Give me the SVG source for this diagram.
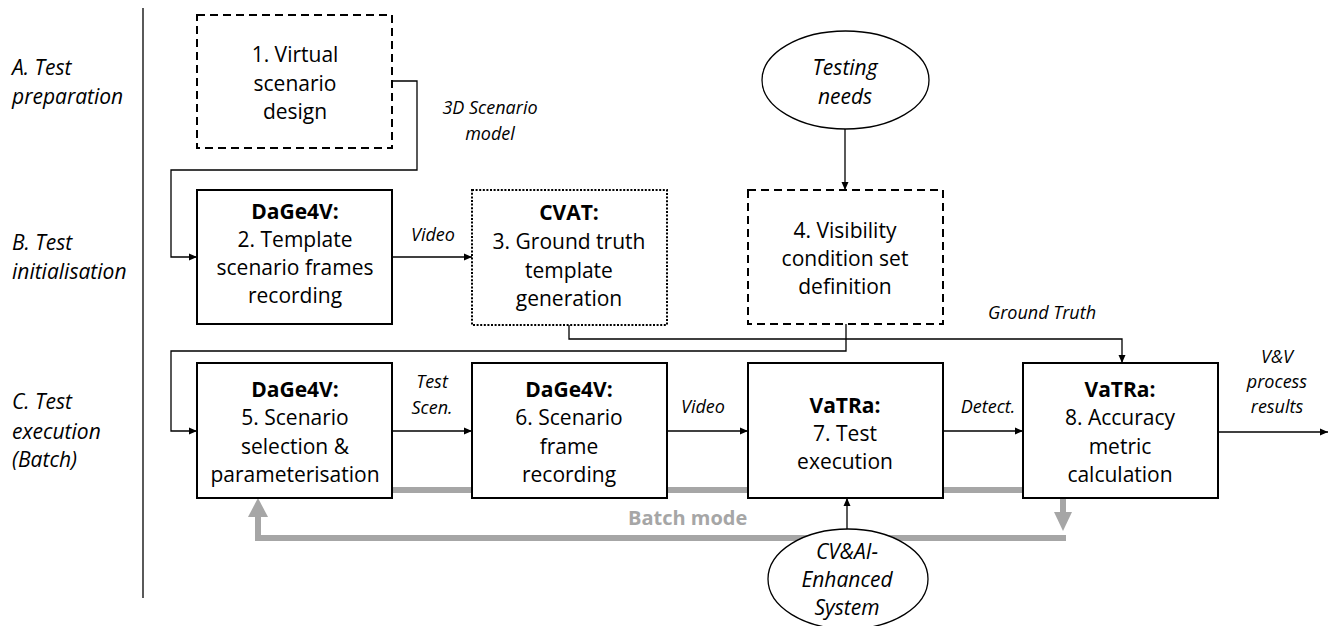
<svg xmlns="http://www.w3.org/2000/svg" width="1339" height="626" viewBox="0 0 1339 626">
  <style>
    .box { fill: #fff; stroke: #000; stroke-width: 2; }
    .dashed { stroke-dasharray: 8 5; }
    .dotted { stroke-dasharray: 2 1.6; }
    .oval { fill: #fff; stroke: #000; stroke-width: 1.3; }
    .t { font-family: "Open Sans", "Liberation Sans", sans-serif; font-size: 21px; fill: #000; text-anchor: middle; }
    .b { font-weight: bold; }
    .it { font-family: "Open Sans", "Liberation Sans", sans-serif; font-style: italic; font-size: 21px; fill: #000; }
    .lbl { font-family: "Open Sans", "Liberation Sans", sans-serif; font-style: italic; font-size: 18px; fill: #000; text-anchor: middle; }
    .wire { fill: none; stroke: #000; stroke-width: 1.3; }
    .loop { fill: none; stroke: #a6a6a6; stroke-width: 6; }
    .loophead { fill: #a6a6a6; }
  </style>
  <defs>
    <marker id="arrow" markerUnits="userSpaceOnUse" markerWidth="9" markerHeight="8" refX="8" refY="4" orient="auto">
      <path d="M0,0.5 L8,4 L0,7.5 z" fill="#000"/>
    </marker>
  </defs>

  <rect width="1339" height="626" fill="#fff"/>

  <!-- phase labels and separator -->
  <g id="phases">
    <line x1="143" y1="8" x2="143" y2="598" stroke="#000" stroke-width="1.3"/>
    <text class="it" x="12" y="75">A. Test</text>
    <text class="it" x="12" y="104">preparation</text>
    <text class="it" x="12" y="250">B. Test</text>
    <text class="it" x="12" y="279">initialisation</text>
    <text class="it" x="12" y="409">C. Test</text>
    <text class="it" x="12" y="439">execution</text>
    <text class="it" x="12" y="467">(Batch)</text>
  </g>

  <!-- batch-mode feedback loop (drawn beneath the boxes) -->
  <g id="batch-loop">
    <polyline class="loop" points="300,490 1063,490 1063,513"/>
    <polygon class="loophead" points="1054,512 1072,512 1063,531"/>
    <polyline class="loop" points="1066,538 258,538 258,516"/>
    <polygon class="loophead" points="248,517 268,517 258,498"/>
    <text x="628" y="525" font-family="Open Sans, Liberation Sans, sans-serif" font-size="20" font-weight="bold" fill="#a6a6a6">Batch mode</text>
  </g>

  <!-- connectors -->
  <g id="connectors">
    <polyline class="wire" points="392,81 417,81 417,170 171,170 171,257 197,257" marker-end="url(#arrow)"/>
    <line class="wire" x1="392" y1="257" x2="472" y2="257" marker-end="url(#arrow)"/>
    <line class="wire" x1="845" y1="129" x2="845" y2="190" marker-end="url(#arrow)"/>
    <polyline class="wire" points="569,325 569,339 1122,339 1122,363" marker-end="url(#arrow)"/>
    <polyline class="wire" points="846,324 846,351 171,351 171,431 197,431" marker-end="url(#arrow)"/>
    <line class="wire" x1="392" y1="431" x2="472" y2="431" marker-end="url(#arrow)"/>
    <line class="wire" x1="667" y1="431" x2="748" y2="431" marker-end="url(#arrow)"/>
    <line class="wire" x1="943" y1="431" x2="1023" y2="431" marker-end="url(#arrow)"/>
    <line class="wire" x1="1218" y1="432" x2="1328" y2="432" marker-end="url(#arrow)"/>
    <line class="wire" x1="847" y1="530" x2="847" y2="498" marker-end="url(#arrow)"/>

    <text class="lbl" x="490" y="114">3D Scenario</text>
    <text class="lbl" x="490" y="140">model</text>
    <text class="lbl" x="433" y="241">Video</text>
    <text class="lbl" x="432" y="388">Test</text>
    <text class="lbl" x="432" y="414">Scen.</text>
    <text class="lbl" x="703" y="413">Video</text>
    <text class="lbl" x="988" y="413">Detect.</text>
    <text class="lbl" x="1042" y="319">Ground Truth</text>
    <text class="lbl" x="1277" y="363">V&amp;V</text>
    <text class="lbl" x="1277" y="388">process</text>
    <text class="lbl" x="1277" y="413">results</text>
  </g>

  <g id="n1">
    <rect class="box dashed" x="197" y="15" width="195" height="133"/>
    <text class="t" x="295" y="62">1. Virtual</text>
    <text class="t" x="295" y="91">scenario</text>
    <text class="t" x="295" y="119">design</text>
  </g>

  <g id="n2">
    <rect class="box" x="197" y="190" width="195" height="134"/>
    <text class="t b" x="295" y="219">DaGe4V:</text>
    <text class="t" x="295" y="247">2. Template</text>
    <text class="t" x="295" y="275">scenario frames</text>
    <text class="t" x="295" y="303">recording</text>
  </g>

  <g id="n3">
    <rect class="box dotted" x="472" y="190" width="195" height="135"/>
    <text class="t b" x="569" y="220">CVAT:</text>
    <text class="t" x="569" y="249">3. Ground truth</text>
    <text class="t" x="569" y="278">template</text>
    <text class="t" x="569" y="306">generation</text>
  </g>

  <g id="n4">
    <rect class="box dashed" x="748" y="190" width="195" height="134"/>
    <text class="t" x="845" y="238">4. Visibility</text>
    <text class="t" x="845" y="266">condition set</text>
    <text class="t" x="845" y="294">definition</text>
  </g>

  <g id="testing-needs">
    <ellipse class="oval" cx="845.5" cy="80" rx="83.5" ry="49"/>
    <text class="it" x="845" y="75" text-anchor="middle">Testing</text>
    <text class="it" x="845" y="104" text-anchor="middle">needs</text>
  </g>

  <g id="n5">
    <rect class="box" x="197" y="363" width="195" height="135"/>
    <text class="t b" x="295" y="397">DaGe4V:</text>
    <text class="t" x="295" y="425">5. Scenario</text>
    <text class="t" x="295" y="454">selection &amp;</text>
    <text class="t" x="295" y="482">parameterisation</text>
  </g>

  <g id="n6">
    <rect class="box" x="472" y="363" width="195" height="135"/>
    <text class="t b" x="569" y="397">DaGe4V:</text>
    <text class="t" x="569" y="425">6. Scenario</text>
    <text class="t" x="569" y="454">frame</text>
    <text class="t" x="569" y="482">recording</text>
  </g>

  <g id="n7">
    <rect class="box" x="748" y="363" width="195" height="135"/>
    <text class="t b" x="845" y="413">VaTRa:</text>
    <text class="t" x="845" y="441">7. Test</text>
    <text class="t" x="845" y="469">execution</text>
  </g>

  <g id="n8">
    <rect class="box" x="1023" y="363" width="195" height="135"/>
    <text class="t b" x="1120" y="397">VaTRa:</text>
    <text class="t" x="1120" y="425">8. Accuracy</text>
    <text class="t" x="1120" y="454">metric</text>
    <text class="t" x="1120" y="482">calculation</text>
  </g>

  <g id="cv-system">
    <ellipse class="oval" cx="848" cy="579" rx="80" ry="50"/>
    <text class="it" x="847" y="559" text-anchor="middle">CV&amp;AI-</text>
    <text class="it" x="847" y="587" text-anchor="middle">Enhanced</text>
    <text class="it" x="847" y="615" text-anchor="middle">System</text>
  </g>
</svg>
